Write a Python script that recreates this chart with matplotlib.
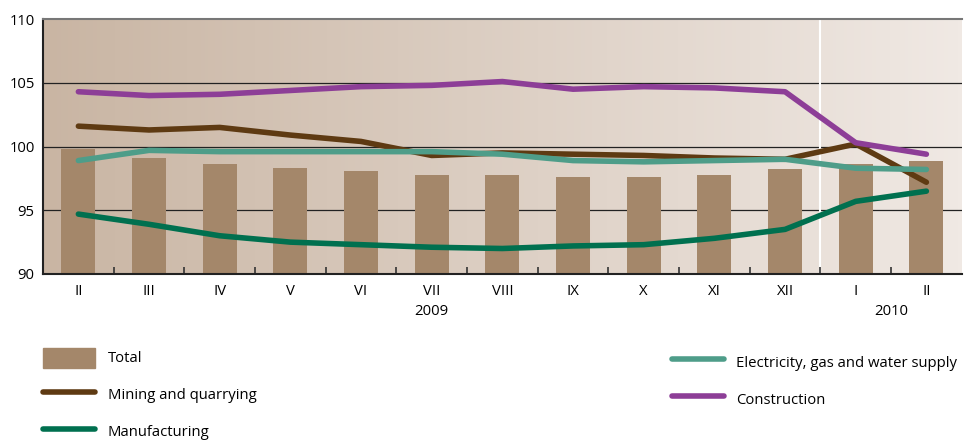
import numpy as np
import matplotlib.pyplot as plt
from matplotlib.colors import LinearSegmentedColormap
from matplotlib.patches import Patch
from matplotlib.lines import Line2D

plt.rcParams['font.family'] = ['Open Sans', 'DejaVu Sans']

#--data
months = ['II', 'III', 'IV', 'V', 'VI', 'VII', 'VIII', 'IX', 'X', 'XI', 'XII', 'I', 'II']
total = [99.8, 99.1, 98.6, 98.3, 98.1, 97.8, 97.8, 97.6, 97.6, 97.8, 98.2, 98.6, 98.9]
mining = [101.6, 101.3, 101.5, 100.9, 100.4, 99.3, 99.5, 99.4, 99.3, 99.1, 99.0, 100.2, 97.2]
manufacturing = [94.7, 93.9, 93.0, 92.5, 92.3, 92.1, 92.0, 92.2, 92.3, 92.8, 93.5, 95.7, 96.5]
electricity = [98.9, 99.7, 99.6, 99.6, 99.6, 99.6, 99.4, 98.9, 98.8, 98.9, 99.0, 98.3, 98.2]
construction = [104.3, 104.0, 104.1, 104.4, 104.7, 104.8, 105.1, 104.5, 104.7, 104.6, 104.3, 100.3, 99.4]

c_total = '#a4876a'
c_mining = '#5e3a12'
c_manuf = '#00704f'
c_elec = '#4e9d89'
c_constr = '#8d3e97'

fig = plt.figure(figsize=(9.65, 4.41), dpi=100)
ax = fig.add_axes([0.0446, 0.3787, 0.952, 0.578])

x = np.arange(len(months))
ax.set_xlim(-0.5, len(months) - 0.5)
ax.set_ylim(90, 110)

#--background gradient
cmap = LinearSegmentedColormap.from_list('bg', ['#c9b5a3', '#f0e9e4'])
ax.imshow(np.linspace(0, 1, 256).reshape(1, -1), cmap=cmap, aspect='auto',
          extent=[-0.5, len(months) - 0.5, 90, 110], zorder=0)

for yv in [95, 100, 105]:
    ax.axhline(yv, color='#222222', lw=0.9, zorder=1)
ax.axvline(10.5, color='white', lw=1.5, zorder=1)

ax.bar(x, [t - 90 for t in total], bottom=90, width=0.48, color=c_total, zorder=2)

lw = 4
ax.plot(x, mining, color=c_mining, lw=lw, solid_capstyle='round', zorder=3)
ax.plot(x, electricity, color=c_elec, lw=lw, solid_capstyle='round', zorder=4)
ax.plot(x, manufacturing, color=c_manuf, lw=lw, solid_capstyle='round', zorder=3)
ax.plot(x, construction, color=c_constr, lw=lw, solid_capstyle='round', zorder=3)

ax.set_yticks([90, 95, 100, 105, 110])
ax.tick_params(axis='y', length=0, labelsize=10.7, pad=6)
ax.set_xticks(x)
ax.set_xticklabels(months)
ax.set_xticks(np.arange(0.5, len(months) - 1, 1), minor=True)
ax.tick_params(axis='x', which='major', length=0, labelsize=10.7, pad=7.5)
ax.tick_params(axis='x', which='minor', direction='in', length=5, width=1.2, color='#333333')

ax.spines['right'].set_visible(False)
ax.spines['top'].set_color('#777777')
ax.spines['top'].set_linewidth(1.5)
for s in ['left', 'bottom']:
    ax.spines[s].set_color('#222222')
    ax.spines[s].set_linewidth(1.5)

ax.text(5, -0.147, '2009', transform=ax.get_xaxis_transform(), ha='center', va='center', fontsize=10.7)
ax.text(11.5, -0.147, '2010', transform=ax.get_xaxis_transform(), ha='center', va='center', fontsize=10.7)

#--legend
h1 = [Patch(color=c_total, label='Total'),
      Line2D([], [], color=c_mining, lw=lw, solid_capstyle='round', label='Mining and quarrying'),
      Line2D([], [], color=c_manuf, lw=lw, solid_capstyle='round', label='Manufacturing')]
h2 = [Line2D([], [], color=c_elec, lw=lw, solid_capstyle='round', label='Electricity, gas and water supply'),
      Line2D([], [], color=c_constr, lw=lw, solid_capstyle='round', label='Construction')]
leg_kw = dict(loc='upper left', frameon=False, fontsize=10.7, handlelength=3.5, handleheight=1.7,
              labelspacing=1.14, handletextpad=0.85, borderpad=0, borderaxespad=0)
fig.legend(handles=h1, bbox_to_anchor=(0.0446, 0.212), **leg_kw)
fig.legend(handles=h2, bbox_to_anchor=(0.696, 0.202), **leg_kw)

fig.savefig('out.png', dpi=100)
